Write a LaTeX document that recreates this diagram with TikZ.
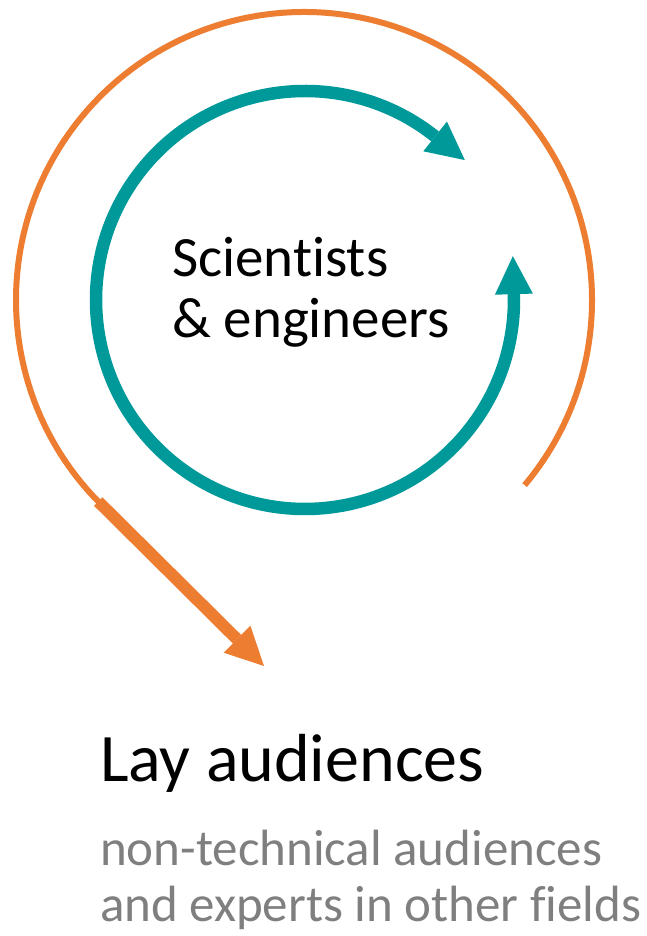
\documentclass[tikz,border=0pt]{standalone}
\usepackage{fontspec}
\setmainfont[Ligatures={NoCommon}]{Carlito}
\usetikzlibrary{calc}
\definecolor{orng}{HTML}{ED7D31}
\definecolor{tealc}{HTML}{009999}
\definecolor{greytxt}{HTML}{7F7F7F}
\begin{document}
\begin{tikzpicture}[x=1pt,y=1pt,
  txt/.style={anchor=base west,inner sep=0pt,outer sep=0pt},
  orngline/.style={draw=orng,line width=6pt},
  tealline/.style={draw=tealc,line width=12.5pt}]
\useasboundingbox (0,0) rectangle (647,936);
\coordinate (C) at (305,636);
\coordinate (OC) at (304,636);
% orange spiral
\draw[orngline] ($(OC)+(-40:288)$) arc[start angle=-40,end angle=225,radius=288];
\coordinate (S) at ($(OC)+(225:288)$);
\coordinate (T) at (264,270);
\coordinate (Sb) at ($(S)!-3pt!(T)$);
\coordinate (Hb) at ($(T)!38pt!(S)$);
\draw[draw=orng,line width=12pt] (Sb) -- (Hb);
\fill[orng] ($(Hb)!19pt!90:(T)$) -- (T) -- ($(Hb)!19pt!-90:(T)$) -- cycle;
% teal circle arrow
\draw[tealline] ($(C)+(51.5:209)$) arc[start angle=51.5,end angle=361.6,radius=209];
\begin{scope}[shift={(C)},rotate=51.5]
  \fill[tealc] (190,0) -- (228,0) -- (209,-38) -- cycle;
\end{scope}
\begin{scope}[shift={(C)},rotate=1.6]
  \fill[tealc] (190,0) -- (228,0) -- (209,38) -- cycle;
\end{scope}
% texts
\node[txt,font=\fontsize{57}{60}\selectfont] (sci) at (172,659) {Scientists};
\node[txt,font=\fontsize{57}{60}\selectfont] (eng) at (172,598) {\& engineers};
\node[txt,font=\fontsize{68}{74}\selectfont] (lay) at (100,154) {Lay audiences};
\node[txt,font=\fontsize{51}{56}\selectfont,text=greytxt] (nt) at (100,70) {non-technical audiences};
\node[txt,font=\fontsize{51}{56}\selectfont,text=greytxt] (ex) at (100,14) {and experts in other fields};
\end{tikzpicture}
\end{document}
